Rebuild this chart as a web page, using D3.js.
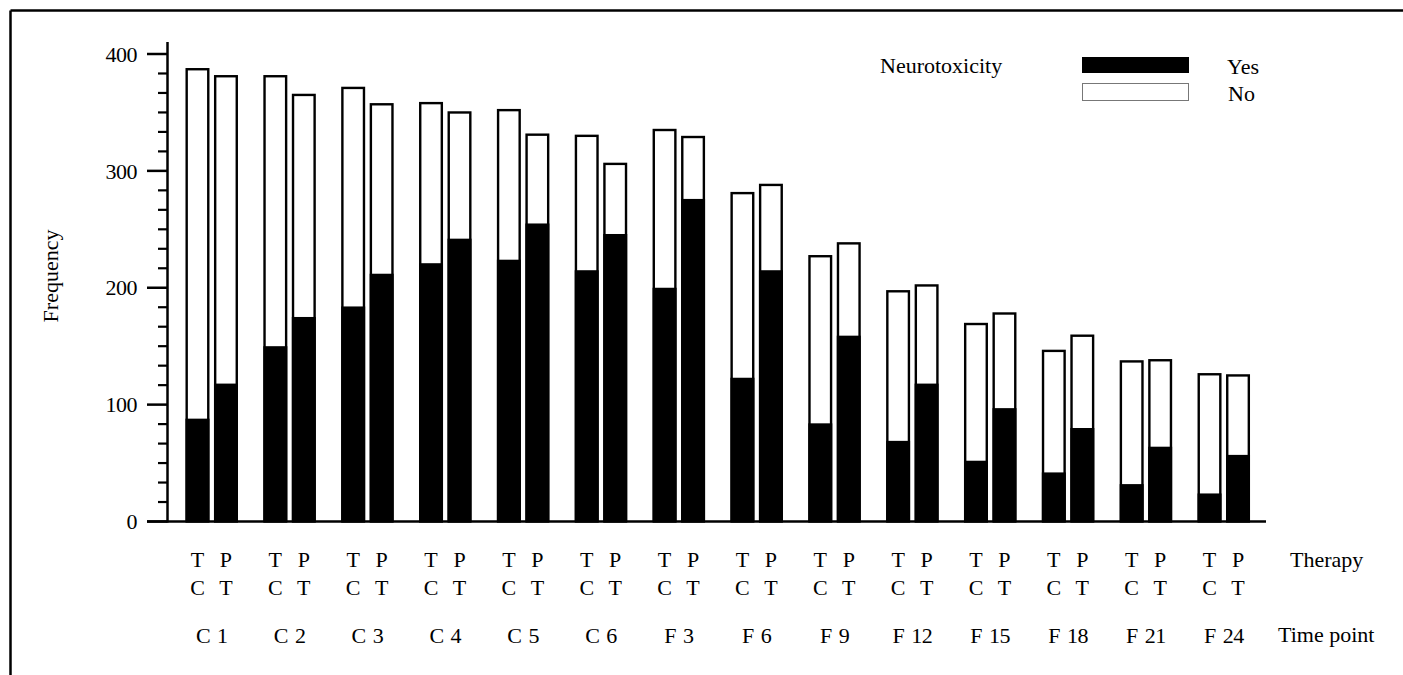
<!DOCTYPE html>
<html>
<head>
<meta charset="utf-8">
<script src="https://cdn.jsdelivr.net/npm/d3@7"></script>
<style>
  body { margin: 0; background: #fff; }
  text { font-family: "Liberation Serif", "DejaVu Serif", serif; fill: #000; }
</style>
</head>
<body>
<div id="chart"></div>
<script>
// Data
const timePoints = ["C 1", "C 2", "C 3", "C 4", "C 5", "C 6", "F 3", "F 6", "F 9", "F 12", "F 15", "F 18", "F 21", "F 24"];
const therapies = ["TC", "PT"];
const therapyTop = {TC: "T", PT: "P"};
const therapyBottom = {TC: "C", PT: "T"};
const tcTotal = [388, 382, 372, 359, 353, 331, 336, 282, 228, 198, 170, 147, 138, 127];
const tcYes   = [88, 150, 184, 221, 224, 215, 200, 123, 84, 69, 52, 42, 32, 24];
const ptTotal = [382, 366, 358, 351, 332, 307, 330, 289, 239, 203, 179, 160, 139, 126];
const ptYes   = [118, 175, 212, 242, 255, 246, 276, 215, 159, 118, 97, 80, 64, 57];
const yTicks = [0, 100, 200, 300, 400];

const W = 1403, H = 675;
const fs = "22px";
const svg = d3.select("#chart").append("svg")
    .attr("width", W)
    .attr("height", H);

// outer frame (top + left only visible)
svg.append("line").attr("x1", 10.5).attr("x2", W).attr("y1", 10.5).attr("y2", 10.5)
    .attr("stroke", "#000").attr("stroke-width", 2.5);
svg.append("line").attr("x1", 10.5).attr("x2", 10.5).attr("y1", 10.5).attr("y2", H)
    .attr("stroke", "#000").attr("stroke-width", 2.5);

// scales
const y = d3.scaleLinear().domain([0, 400]).range([521.5, 54]);
const x0 = d3.scaleBand().domain(timePoints).range([172.8, 1262.7]);
const x1 = d3.scaleBand().domain(therapies).range([0, x0.bandwidth()])
    .paddingInner(0.158).paddingOuter(0.445);

// rows built from the arrays
const rows = [];
timePoints.forEach((t, i) => {
    rows.push({time: t, therapy: "TC", total: tcTotal[i], yes: tcYes[i]});
    rows.push({time: t, therapy: "PT", total: ptTotal[i], yes: ptYes[i]});
});

// Y axis
const axisX = 167.5;
svg.append("line")
    .attr("x1", axisX).attr("x2", axisX)
    .attr("y1", 42).attr("y2", y(0) + 1)
    .attr("stroke", "#000").attr("stroke-width", 2.5);

// minor ticks every 100/6
const minor = d3.range(0, 24).map(k => k * 100 / 6).filter(v => v % 100 !== 0);
svg.selectAll(".minor").data(minor).enter().append("line")
    .attr("class", "minor")
    .attr("x1", 158).attr("x2", axisX)
    .attr("y1", d => y(d)).attr("y2", d => y(d))
    .attr("stroke", "#000").attr("stroke-width", 2.2);

svg.selectAll(".major").data(yTicks).enter().append("line")
    .attr("class", "major")
    .attr("x1", 147).attr("x2", axisX)
    .attr("y1", d => y(d)).attr("y2", d => y(d))
    .attr("stroke", "#000").attr("stroke-width", 2.5);

svg.selectAll(".ylab").data(yTicks).enter().append("text")
    .attr("class", "ylab")
    .attr("x", 137)
    .attr("y", d => y(d))
    .attr("dy", "0.35em")
    .attr("text-anchor", "end")
    .style("font-size", fs)
    .style("letter-spacing", "-0.5px")
    .text(d => d);

svg.append("text")
    .attr("transform", "translate(58,276) rotate(-90)")
    .attr("text-anchor", "middle")
    .style("font-size", fs)
    .text("Frequency");

// bars
const bw = x1.bandwidth();
const sw = 2.4;
const bars = svg.selectAll(".bar").data(rows).enter().append("g")
    .attr("class", "bar")
    .attr("transform", d => `translate(${x0(d.time) + x1(d.therapy)},0)`);

bars.append("rect")
    .attr("x", sw / 2)
    .attr("width", bw - sw)
    .attr("y", d => y(d.total) + sw / 2)
    .attr("height", d => y(0) - y(d.total) - sw / 2)
    .attr("fill", "#fff")
    .attr("stroke", "#000")
    .attr("stroke-width", sw);

bars.append("rect")
    .attr("x", 0)
    .attr("width", bw)
    .attr("y", d => y(d.yes))
    .attr("height", d => y(0) - y(d.yes))
    .attr("fill", "#000");

// X baseline
svg.append("line")
    .attr("x1", 147).attr("x2", 1266)
    .attr("y1", y(0)).attr("y2", y(0))
    .attr("stroke", "#000").attr("stroke-width", 2.7);

// therapy labels
svg.selectAll(".tTop").data(rows).enter().append("text")
    .attr("class", "tTop")
    .attr("x", d => x0(d.time) + x1(d.therapy) + bw / 2)
    .attr("y", 567)
    .attr("text-anchor", "middle")
    .style("font-size", fs)
    .text(d => therapyTop[d.therapy]);

svg.selectAll(".tBot").data(rows).enter().append("text")
    .attr("class", "tBot")
    .attr("x", d => x0(d.time) + x1(d.therapy) + bw / 2)
    .attr("y", 595)
    .attr("text-anchor", "middle")
    .style("font-size", fs)
    .text(d => therapyBottom[d.therapy]);

// time point labels
svg.selectAll(".tp").data(timePoints).enter().append("text")
    .attr("class", "tp")
    .attr("x", d => x0(d) + x0.bandwidth() / 2)
    .attr("y", 643)
    .attr("text-anchor", "middle")
    .style("font-size", fs)
    .style("word-spacing", "2px")
    .style("letter-spacing", "-0.5px")
    .text(d => d);

svg.append("text").attr("x", 1290).attr("y", 567)
    .style("font-size", fs).text("Therapy");
svg.append("text").attr("x", 1278).attr("y", 642)
    .style("font-size", fs).text("Time point");

// legend
svg.append("text").attr("x", 880).attr("y", 73)
    .style("font-size", fs).text("Neurotoxicity");
svg.append("rect")
    .attr("x", 1082).attr("y", 57).attr("width", 107).attr("height", 16)
    .attr("fill", "#000");
svg.append("rect")
    .attr("x", 1082.5).attr("y", 83.5).attr("width", 106).attr("height", 17)
    .attr("fill", "#fff").attr("stroke", "#777").attr("stroke-width", 1);
svg.append("text").attr("x", 1227).attr("y", 74)
    .style("font-size", fs).text("Yes");
svg.append("text").attr("x", 1228).attr("y", 101)
    .style("font-size", fs).text("No");
</script>
</body>
</html>
